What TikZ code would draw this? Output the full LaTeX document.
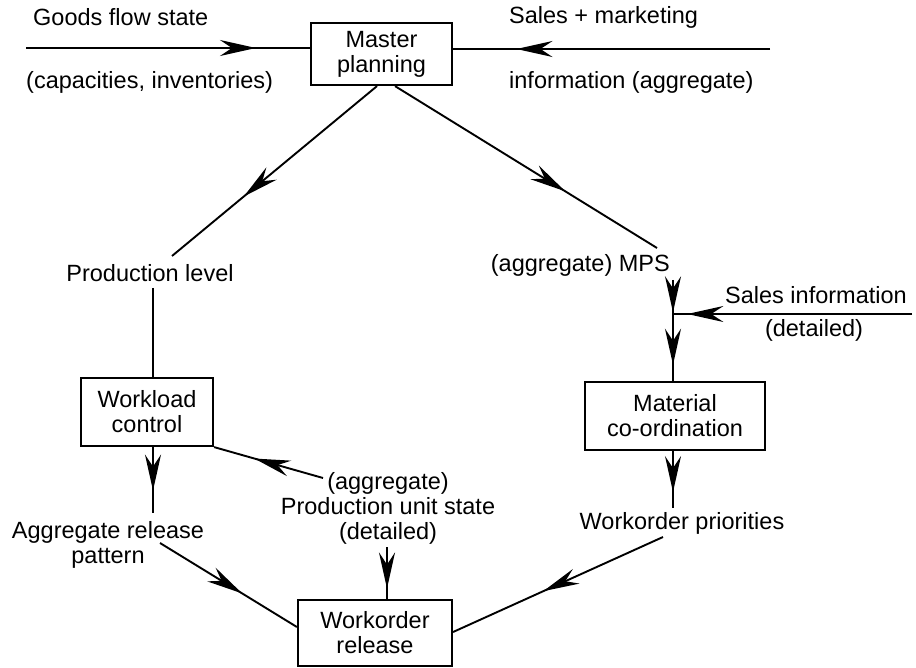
\documentclass[tikz,border=0pt]{standalone}
\usepackage{fontspec}
\setmainfont{Liberation Sans}
\usetikzlibrary{arrows.meta,decorations.markings}
\begin{document}
\begin{tikzpicture}[x=1pt,y=-1pt,
  font=\fontsize{23.5}{25}\selectfont,
  flow/.style={line width=1.9pt},
  box/.style={draw,line width=2.2pt,rectangle,align=center,inner sep=0pt},
  lbl/.style={inner sep=0pt,align=center},
  barb/.tip={Stealth[length=36pt,width=16pt,inset=12pt]},
  midarrow/.style={flow,postaction={decorate},
    decoration={markings,mark=at position #1 with {\arrow{barb}}}},
  twoarrows/.style 2 args={flow,postaction={decorate},
    decoration={markings,
      mark=at position #1 with {\arrow{barb}},
      mark=at position #2 with {\arrow{barb}}}}
]
\useasboundingbox (0,0) rectangle (916,668);

% planning boxes
\node[box,minimum width=141pt,minimum height=62pt] (master) at (381.5,54) {Master\\planning};
\node[box,minimum width=132pt,minimum height=68pt] (workload) at (147,412) {Workload\\control};
\node[box,minimum width=180pt,minimum height=68pt] (material) at (675,416) {Material\\co-ordination};
\node[box,minimum width=154pt,minimum height=66pt] (workorder) at (375,633) {Workorder\\release};

% information labels
\node[lbl,anchor=west] (goods) at (33,17) {Goods flow state};
\node[lbl,anchor=west] (capac) at (26,82) {(capacities, inventories)};
\node[lbl,anchor=west] (sales) at (509,17) {Sales + marketing};
\node[lbl,anchor=west] (info) at (509,82) {information (aggregate)};
\node[lbl] (prodlevel) at (150,273) {Production level};
\node[lbl,anchor=east] (mps) at (670,265) {(aggregate) MPS};
\node[lbl,anchor=west] (salesinfo) at (725,295) {Sales information};
\node[lbl] (salesdet) at (814,330) {(detailed)};
\node[lbl] (pattern) at (108,545) {Aggregate release\\pattern};
\node[lbl] (unitstate) at (388,508) {(aggregate)\\Production unit state\\(detailed)};
\node[lbl] (priorities) at (682,523) {Workorder priorities};

% free line ends
\coordinate (goodsIn) at (26,48);
\coordinate (salesIn) at (770,49);
\coordinate (plEnd) at (172,256);
\coordinate (mpsEnd) at (657,248);
\coordinate (plBot) at (153,288);
\coordinate (patTop) at (153,513);
\coordinate (patOut) at (160,543);
\coordinate (usOut) at (323,478);
\coordinate (usBot) at (387,547);
\coordinate (prTop) at (673,508);
\coordinate (prOut) at (663,537);
\coordinate (mpsBot) at (673,280);
\coordinate (salesEnd) at (912,314);
\coordinate (junc) at (673,314);

% flows
\draw[midarrow=0.81] (goodsIn) -- (goodsIn -| master.west);
\draw[midarrow=0.80] (salesIn) -- (salesIn -| master.east);
\draw[midarrow=0.65] ([xshift=-4.5pt]master.south) -- (plEnd);
\draw[midarrow=0.65] ([xshift=13.5pt]master.south) -- (mpsEnd);
\draw[flow] (plBot) -- ([xshift=6pt]workload.north);
\draw[midarrow=0.66] ([xshift=6pt]workload.south) -- (patTop);
\draw[midarrow=0.60] (patOut) -- ([yshift=6pt]workorder.west);
\draw[midarrow=0.63] (usOut) -- (workload.south east);
\draw[midarrow=0.80] (usBot) -- ([xshift=12pt]workorder.north);
\draw[midarrow=0.72] ([xshift=-2pt]material.south) -- (prTop);
\draw[midarrow=0.57] (prOut) -- ([yshift=1pt]workorder.east);
\draw[twoarrows={0.32}{0.84}] (mpsBot) -- ([xshift=-2pt]material.north);
\draw[midarrow=0.94] (salesEnd) -- (junc);
\end{tikzpicture}
\end{document}
